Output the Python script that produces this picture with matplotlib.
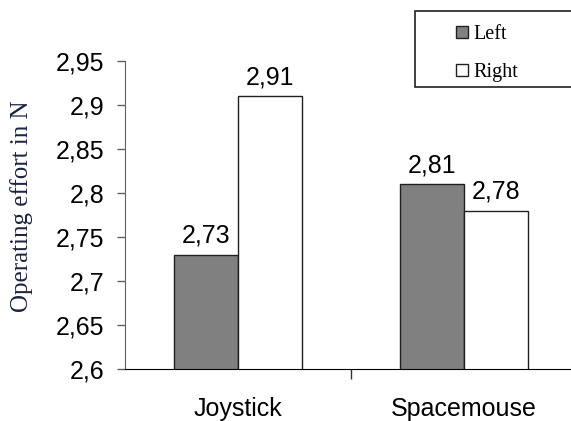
import numpy as np
import matplotlib
matplotlib.use("Agg")
import matplotlib.pyplot as plt
from matplotlib.patches import Rectangle
from matplotlib.ticker import FuncFormatter, FixedLocator

# data
categories = ["Joystick", "Spacemouse"]
series_names = ["Left", "Right"]
left_values = [2.73, 2.81]
right_values = [2.91, 2.78]
y_ticks = [2.6, 2.65, 2.7, 2.75, 2.8, 2.85, 2.9, 2.95]


def comma(v, pos=None):
    # 2.90 -> "2,9", 2.95 -> "2,95"
    s = f"{v:.2f}"
    if s.endswith("0"):
        s = s[:-1]
    return s.replace(".", ",")


W, H = 571, 421
fig = plt.figure(figsize=(W / 100, H / 100), dpi=100)
fig.patch.set_facecolor("white")

# axes run off the right edge of the picture, like in the original
ax = fig.add_axes([125 / W, 52 / H, 452 / W, 308 / H])

x = np.arange(len(categories))
width = 0.285
b1 = ax.bar(x - width / 2, left_values, width, color="#808080",
            edgecolor="#202020", linewidth=1.0, label=series_names[0])
b2 = ax.bar(x + width / 2, right_values, width, color="white",
            edgecolor="#202020", linewidth=1.0, label=series_names[1])

for bars, vals in ((b1, left_values), (b2, right_values)):
    ax.bar_label(bars, labels=[f"{v:.2f}".replace(".", ",") for v in vals],
                 padding=5, fontsize=18, family="Liberation Sans", color="black")

ax.set_xlim(-0.5, 1.5)
ax.set_ylim(2.6, 2.95)
ax.set_yticks(y_ticks)
ax.yaxis.set_major_formatter(FuncFormatter(comma))

ax.set_xticks(x)
ax.set_xticklabels(categories)
ax.xaxis.set_minor_locator(FixedLocator([0.5]))
ax.tick_params(axis="x", which="major", length=0, pad=20)
ax.tick_params(axis="x", which="minor", length=7, width=1, color="#303030")
ax.tick_params(axis="y", length=6, width=1, color="#606060", pad=9)
for lab in ax.get_xticklabels() + ax.get_yticklabels():
    lab.set_family("Liberation Sans")
    lab.set_fontsize(18)

for s in ("top", "right"):
    ax.spines[s].set_visible(False)
ax.spines["left"].set_color("#606060")
ax.spines["bottom"].set_color("black")

fig.text(22 / W, 1 - 206 / H, "Operating effort in N", rotation=90,
         ha="center", va="center", family="Liberation Serif",
         fontsize=18, color="#1c2340")

# legend box, cut off at the right edge
box = Rectangle((415 / W, 1 - 87 / H), 200 / W, 76 / H,
                transform=fig.transFigure, facecolor="white",
                edgecolor="#202020", linewidth=1.2, zorder=5)
fig.patches.append(box)
leg = fig.legend(handles=[b1, b2], labels=series_names, loc="upper left",
                 bbox_to_anchor=(456 / W, 1 - 25 / H), frameon=False,
                 prop={"family": "Liberation Serif", "size": 14.5},
                 handlelength=0.6, handleheight=0.6, handletextpad=0.25,
                 labelspacing=0.95, borderpad=0, borderaxespad=0)
leg.set_zorder(6)

fig.savefig("out.png", dpi=100)
